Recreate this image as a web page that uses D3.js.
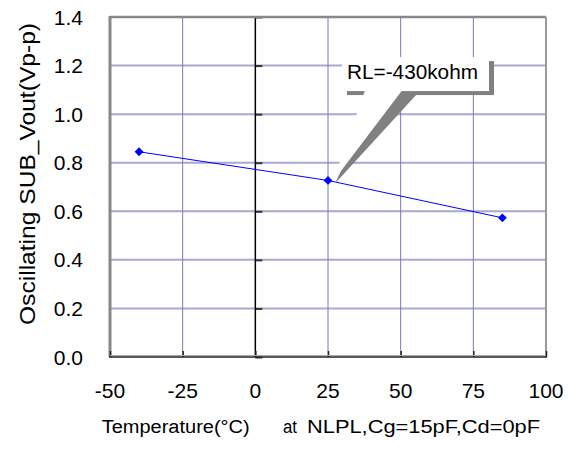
<!DOCTYPE html>
<html><head><meta charset="utf-8">
<script src="https://cdn.jsdelivr.net/npm/d3@7"></script>
<style>html,body{margin:0;padding:0;background:#fff;}svg{display:block;font-family:"Liberation Sans",Arial,sans-serif;}</style>
</head><body>
<script>
const temperatures = [-40, 25, 85];
const vout = [0.845, 0.727, 0.573];
const xTicks = [-50, -25, 0, 25, 50, 75, 100];
const yTicks = [0, 0.2, 0.4, 0.6, 0.8, 1.0, 1.2, 1.4];
const xTitleParts = ["Temperature(°C)", "at", "NLPL,Cg=15pF,Cd=0pF"];
const yTitle = "Oscillating SUB_Vout(Vp-p)";
const calloutText = "RL=-430kohm";
const calloutPoint = {t: 25, v: 0.727};

const W = 583, H = 450;
const svg = d3.select("body").append("svg").attr("width", W).attr("height", H);
const x = d3.scaleLinear().domain([-50, 100]).range([110, 546]);
const y = d3.scaleLinear().domain([0, 1.4]).range([357, 17]);

// gridlines
svg.append("g").selectAll("line").data(yTicks.slice(1, -1)).join("line")
  .attr("x1", x(-50)).attr("x2", x(100)).attr("y1", d => y(d)).attr("y2", d => y(d))
  .attr("stroke", "#a9a9cf").attr("stroke-width", 2);
svg.append("g").selectAll("line").data(xTicks.filter(d => d !== 0 && d !== -50 && d !== 100)).join("line")
  .attr("y1", y(0)).attr("y2", y(1.4)).attr("x1", d => x(d)).attr("x2", d => x(d))
  .attr("stroke", "#7a7ab6").attr("stroke-width", 1);

// zero axis (y axis at x=0)
const yAxis = d3.axisRight(y).tickValues(yTicks).tickSize(7).tickFormat("");
const ya = svg.append("g").attr("transform", `translate(${x(0)},0)`).call(yAxis);
ya.select(".domain").remove();
ya.selectAll(".tick line").attr("stroke", "#333").attr("stroke-width", 2);
svg.append("line").attr("x1", x(0)).attr("x2", x(0)).attr("y1", y(0)).attr("y2", y(1.4))
  .attr("stroke", "#000").attr("stroke-width", 1.5);

// frame
svg.append("line").attr("x1", x(-50)).attr("x2", x(100)).attr("y1", y(1.4)).attr("y2", y(1.4)).attr("stroke", "#888").attr("stroke-width", 2.5);
svg.append("line").attr("x1", x(100)).attr("x2", x(100)).attr("y1", y(1.4)).attr("y2", y(0)).attr("stroke", "#999").attr("stroke-width", 2);
svg.append("line").attr("x1", x(-50)).attr("x2", x(-50)).attr("y1", y(1.4)-1).attr("y2", y(0)).attr("stroke", "#888").attr("stroke-width", 3);

// x axis at bottom with upward ticks
const xAxis = d3.axisTop(x).tickValues(xTicks).tickSize(6).tickFormat("");
const xa = svg.append("g").attr("transform", `translate(0,${y(0)})`).call(xAxis);
xa.select(".domain").remove();
xa.selectAll(".tick line").attr("stroke", "#222").attr("stroke-width", 1.5);
svg.append("line").attr("x1", x(-50)-1).attr("x2", x(100)+1).attr("y1", y(0)).attr("y2", y(0)).attr("stroke", "#222").attr("stroke-width", 1.5);
svg.append("line").attr("x1", x(-50)).attr("x2", x(100)).attr("y1", y(0)-1.5).attr("y2", y(0)-1.5).attr("stroke", "#aaa").attr("stroke-width", 1);

// tick labels
svg.append("g").selectAll("text").data(yTicks).join("text")
  .attr("x", 83).attr("y", d => y(d) + 7.5).attr("text-anchor", "end")
  .attr("font-size", 21).attr("fill", "#000").text(d => d.toFixed(1));
svg.append("g").selectAll("text").data(xTicks).join("text")
  .attr("x", d => x(d)).attr("y", 398).attr("text-anchor", "middle")
  .attr("font-size", 21).attr("fill", "#000").text(d => d);

// axis titles
const xt = [[101.7, 148], [283, 14], [307, 233]];
svg.append("g").selectAll("text").data(xTitleParts).join("text")
  .attr("x", (d, i) => xt[i][0]).attr("y", 433)
  .attr("textLength", (d, i) => xt[i][1]).attr("lengthAdjust", "spacingAndGlyphs")
  .attr("font-size", 18).attr("fill", "#000").text(d => d);
svg.append("text").attr("transform", `translate(35,${(y(0)+y(1.4))/2 - 13}) rotate(-90)`)
  .attr("text-anchor", "middle").attr("font-size", 22).attr("fill", "#000")
  .attr("textLength", 302).attr("lengthAdjust", "spacingAndGlyphs").text(yTitle);

// series
const pts = temperatures.map((t, i) => [x(t), y(vout[i])]);
svg.append("path").attr("d", d3.line()(pts)).attr("fill", "none").attr("stroke", "#0000ff").attr("stroke-width", 1);
svg.append("g").selectAll("path").data(pts).join("path")
  .attr("transform", d => `translate(${d[0]},${d[1]})`)
  .attr("d", d3.symbol(d3.symbolDiamond2, 50)).attr("fill", "#0000ff");

// callout
const px = x(calloutPoint.t), py = y(calloutPoint.v);
const bx = px + 14, by = y(1.235), bw = 147, bh = 34;
const g = svg.append("g");
const sdx = 5, sdy = 4;
g.append("rect").attr("x", bx + sdx).attr("y", by + sdy).attr("width", bw).attr("height", bh).attr("fill", "#808080");
g.append("path").attr("d", `M${px+7},${py+3} L${bx+30+sdx},${by+bh+sdy-1} L${bx+67+sdx+3},${by+bh+sdy-1} Z`).attr("fill", "#808080");
g.append("rect").attr("x", bx).attr("y", by).attr("width", bw).attr("height", bh).attr("fill", "#fff");
g.append("path").attr("d", `M${px+5},${py+1} L${bx+23},${by+bh-0.5} L${bx+60},${by+bh-0.5} Z`).attr("fill", "#fff");
g.append("text").attr("x", bx + 5).attr("y", by + 22).attr("font-size", 21).attr("fill", "#000")
  .attr("textLength", 131).attr("lengthAdjust", "spacingAndGlyphs").text(calloutText);
</script>
</body></html>
